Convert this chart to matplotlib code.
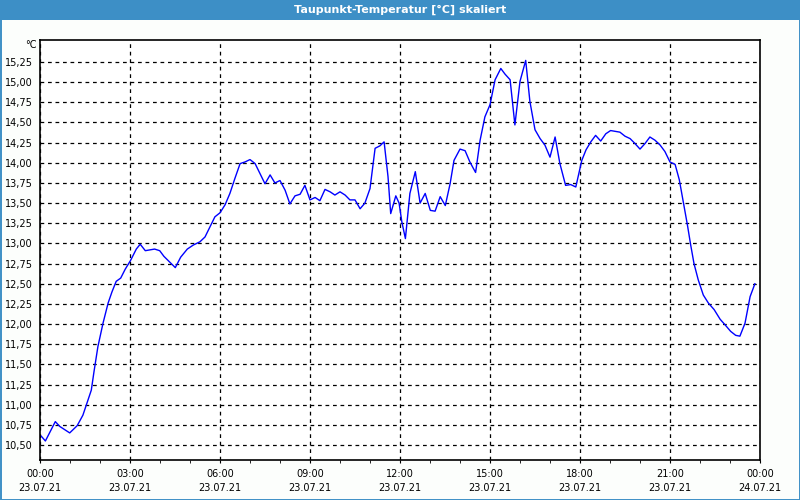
import matplotlib.pyplot as plt
from matplotlib.patches import Rectangle
from matplotlib.ticker import MultipleLocator, FixedLocator, FuncFormatter

# Messzeitpunkte in Stunden ab 23.07.21 00:00 und Taupunkt in °C
stunden = [
    0.04, 0.18, 0.51, 0.66, 0.99, 1.24, 1.43, 1.60, 1.71, 1.80,
    1.93, 2.10, 2.27, 2.40, 2.54, 2.69, 2.84, 3.02, 3.21, 3.34,
    3.51, 3.82, 3.99, 4.13, 4.51, 4.69, 4.91, 5.11, 5.33, 5.50,
    5.67, 5.83, 6.00, 6.17, 6.33, 6.50, 6.67, 6.83, 7.00, 7.17,
    7.33, 7.50, 7.67, 7.83, 8.00, 8.17, 8.33, 8.50, 8.67, 8.83,
    9.00, 9.17, 9.33, 9.50, 9.67, 9.83, 10.00, 10.17, 10.33, 10.50,
    10.67, 10.83, 11.00, 11.17, 11.33, 11.47, 11.60, 11.69, 11.86, 11.97,
    12.06, 12.18, 12.33, 12.51, 12.67, 12.84, 13.01, 13.17, 13.34, 13.51,
    13.67, 13.80, 14.00, 14.17, 14.33, 14.52, 14.67, 14.83, 15.00, 15.17,
    15.36, 15.50, 15.67, 15.83, 16.00, 16.19, 16.33, 16.50, 16.67, 16.83,
    17.00, 17.17, 17.33, 17.52, 17.69, 17.86, 18.06, 18.20, 18.36, 18.52,
    18.69, 18.86, 19.02, 19.33, 19.50, 19.67, 19.83, 20.00, 20.17, 20.33,
    20.50, 20.67, 20.83, 21.00, 21.17, 21.31, 21.44, 21.58, 21.69, 21.80,
    21.94, 22.11, 22.28, 22.47, 22.67, 22.86, 23.02, 23.19, 23.33, 23.50,
    23.67, 23.83,
]
taupunkt = [
    10.61, 10.55, 10.79, 10.73, 10.65, 10.74, 10.87, 11.06, 11.18, 11.41,
    11.72, 12.01, 12.26, 12.40, 12.53, 12.57, 12.68, 12.79, 12.93, 12.99,
    12.91, 12.93, 12.91, 12.84, 12.70, 12.83, 12.93, 12.98, 13.02, 13.08,
    13.21, 13.33, 13.38, 13.48, 13.62, 13.81, 13.99, 14.01, 14.04, 13.99,
    13.87, 13.74, 13.85, 13.75, 13.78, 13.66, 13.49, 13.59, 13.61, 13.72,
    13.54, 13.57, 13.53, 13.67, 13.64, 13.60, 13.64, 13.60, 13.54, 13.54,
    13.43, 13.50, 13.68, 14.18, 14.21, 14.26, 13.83, 13.37, 13.59, 13.50,
    13.27, 13.06, 13.62, 13.89, 13.50, 13.62, 13.41, 13.40, 13.58, 13.47,
    13.74, 14.03, 14.17, 14.15, 14.01, 13.88, 14.28, 14.57, 14.72, 15.03,
    15.17, 15.10, 15.03, 14.47, 15.01, 15.27, 14.76, 14.41, 14.30, 14.22,
    14.07, 14.32, 13.99, 13.72, 13.73, 13.70, 14.03, 14.16, 14.26, 14.34,
    14.27, 14.36, 14.40, 14.38, 14.33, 14.30, 14.24, 14.17, 14.24, 14.32,
    14.28, 14.22, 14.14, 14.01, 13.98, 13.79, 13.52, 13.23, 12.98, 12.75,
    12.55, 12.36, 12.26, 12.18, 12.06, 11.98, 11.91, 11.86, 11.85, 12.01,
    12.34, 12.50,
]

x_ticks = [0, 3, 6, 9, 12, 15, 18, 21, 24]
x_labels = [
    "00:00\n23.07.21", "03:00\n23.07.21", "06:00\n23.07.21",
    "09:00\n23.07.21", "12:00\n23.07.21", "15:00\n23.07.21",
    "18:00\n23.07.21", "21:00\n23.07.21", "00:00\n24.07.21",
]
y_ticks = [10.50, 10.75, 11.00, 11.25, 11.50, 11.75, 12.00, 12.25, 12.50, 12.75,
           13.00, 13.25, 13.50, 13.75, 14.00, 14.25, 14.50, 14.75, 15.00, 15.25]
titel = "Taupunkt-Temperatur [°C] skaliert"

blau_rahmen = "#3d8fc6"

fig = plt.figure(figsize=(8, 5), dpi=100, facecolor="#fcfefc")

# Titelleiste und Fensterrahmen
fig.patches.append(Rectangle((0, 1 - 20 / 500), 1, 20 / 500, transform=fig.transFigure,
                             facecolor=blau_rahmen, edgecolor="none", zorder=0))
fig.patches.append(Rectangle((0.5 / 800, 0.5 / 500), 1 - 1 / 800, 1 - 1 / 500,
                             transform=fig.transFigure, facecolor="none",
                             edgecolor=blau_rahmen, linewidth=1.4, zorder=0))
fig.text(0.5, 1 - 10 / 500, titel, color="white", fontsize=8, fontweight="bold",
         ha="center", va="center")

ax = fig.add_axes([40 / 800, 40 / 500, 720 / 800, 420 / 500])
ax.set_facecolor("white")
ax.plot(stunden, taupunkt, color="#0000ff", linewidth=1)

ax.set_xlim(0, 24)
ax.set_ylim(10.314, 15.523)

ax.set_xticks(x_ticks)
ax.set_xticklabels(x_labels, fontsize=7, linespacing=1.45)
ax.xaxis.set_minor_locator(MultipleLocator(1))
ax.yaxis.set_major_locator(FixedLocator(y_ticks))
ax.yaxis.set_major_formatter(FuncFormatter(lambda v, p: f"{v:.2f}".replace(".", ",")))
ax.tick_params(axis="y", length=0, pad=5, labelsize=7)
ax.tick_params(axis="x", which="major", length=2.5, pad=4)
ax.tick_params(axis="x", which="minor", length=2.5)

ax.grid(True, color="black", linestyle=(0, (3, 3)), linewidth=0.9)
for s in ax.spines.values():
    s.set_color("black")
    s.set_linewidth(1.2)

ax.text(-0.004, 1.0, "°C", transform=ax.transAxes, ha="right", va="top", fontsize=7)

fig.savefig("out.png", dpi=100, facecolor=fig.get_facecolor())
